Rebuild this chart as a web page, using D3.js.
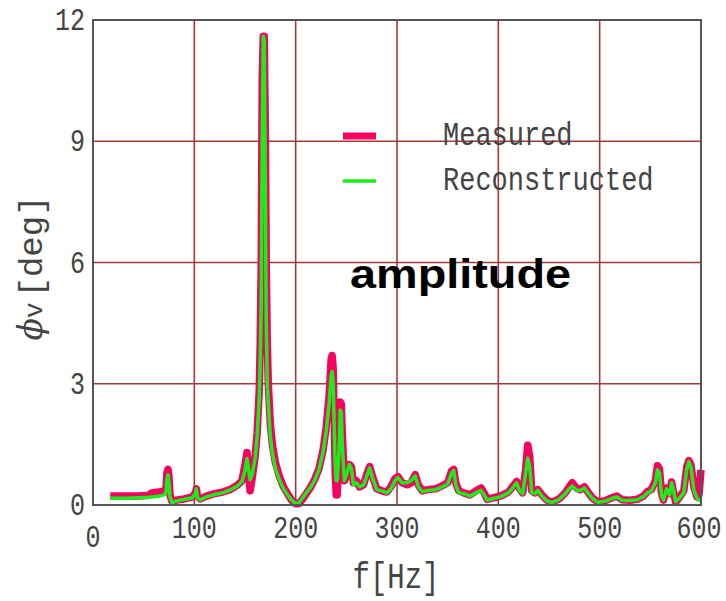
<!DOCTYPE html>
<html><head><meta charset="utf-8">
<script src="https://cdn.jsdelivr.net/npm/d3@7"></script>
<style>html,body{margin:0;padding:0;background:#fff;}svg{display:block;}</style>
</head><body>
<svg id="c" width="726" height="601"></svg>
<script>
const freq = [17,30,45,55,58,65,70,72,73,74,75,76,78,82,90,98,101,102,103,106,112,120,128,135,142,147,150,152,154,155,157,160,162,164,165,166,167,168,169,170,171,172,173,175,177,180,184,188,192,196,200,203,207,211,215,219,223,227,230,233,235,236,237,238,239,240,241,243,244,245,246,248,250,253,255,257,260,263,267,270,273,276,280,285,290,294,298,301,305,310,314,318,321,325,330,338,345,350,354,356,358,361,366,372,378,383,386,389,395,402,410,414,418,421,424,427,429,431,433,436,439,443,448,453,460,466,470,473,477,481,485,489,493,498,505,512,517,522,530,537,543,547,551,555,557,559,561,563,566,569,571,573,575,579,583,586,588,590,593,596,598,600];
const measured = [0.22,0.22,0.22,0.24,0.30,0.32,0.34,0.40,0.80,0.88,0.70,0.25,0.08,0.12,0.15,0.20,0.30,0.40,0.22,0.15,0.22,0.28,0.32,0.38,0.48,0.60,1.00,1.30,0.70,0.35,0.65,1.20,1.80,2.80,4.00,6.00,10.50,11.60,11.60,9.50,5.90,4.00,3.00,2.00,1.50,1.05,0.70,0.45,0.28,0.12,0.03,0.03,0.15,0.30,0.45,0.65,0.90,1.35,1.90,2.70,3.60,3.70,3.40,2.20,0.80,0.25,0.25,1.50,2.55,2.50,1.80,0.60,0.70,1.00,0.95,0.55,0.60,0.45,0.50,0.75,0.95,0.70,0.40,0.35,0.32,0.45,0.65,0.70,0.55,0.50,0.55,0.75,0.50,0.35,0.38,0.40,0.48,0.55,0.85,0.88,0.55,0.35,0.30,0.25,0.35,0.42,0.30,0.14,0.18,0.22,0.32,0.45,0.58,0.40,0.30,0.90,1.48,1.20,0.35,0.30,0.38,0.25,0.12,0.07,0.15,0.30,0.45,0.55,0.42,0.38,0.45,0.30,0.17,0.08,0.10,0.18,0.22,0.13,0.12,0.14,0.22,0.33,0.38,0.60,0.97,0.90,0.30,0.12,0.42,0.28,0.57,0.30,0.07,0.20,0.35,0.95,1.10,1.00,0.45,0.20,0.25,0.87];
const reconstructed = [0.17,0.17,0.18,0.19,0.20,0.22,0.25,0.30,0.65,0.75,0.55,0.20,0.05,0.10,0.14,0.18,0.28,0.40,0.18,0.13,0.20,0.26,0.30,0.37,0.46,0.58,0.85,1.15,0.80,0.62,0.75,1.15,1.70,2.60,3.50,5.00,9.00,11.60,11.50,8.00,4.50,3.00,2.50,1.70,1.30,0.90,0.62,0.40,0.25,0.12,0.04,0.05,0.18,0.32,0.45,0.62,0.88,1.30,1.80,2.50,3.20,3.30,3.00,2.00,1.00,0.60,0.60,1.40,2.35,2.30,1.50,0.60,0.75,1.00,0.90,0.50,0.55,0.45,0.50,0.70,0.92,0.65,0.38,0.35,0.30,0.40,0.60,0.68,0.55,0.55,0.60,0.72,0.45,0.33,0.36,0.38,0.45,0.52,0.80,0.85,0.50,0.30,0.28,0.22,0.30,0.36,0.25,0.12,0.16,0.20,0.30,0.42,0.55,0.35,0.28,0.80,1.16,0.95,0.30,0.28,0.36,0.22,0.10,0.06,0.14,0.28,0.40,0.47,0.37,0.36,0.42,0.28,0.16,0.07,0.09,0.16,0.20,0.12,0.11,0.13,0.20,0.30,0.35,0.55,0.87,0.80,0.25,0.12,0.40,0.25,0.55,0.35,0.08,0.18,0.30,0.90,1.07,0.95,0.37,0.17,0.12,0.10];
const xTicks = [100,200,300,400,500,600];
const yTicks = [0,3,6,9,12];
const seriesNames = ["Measured","Reconstructed"];
const seriesColors = ["#f7005f","#1aee1a"];

const svg = d3.select("#c");
const x = d3.scaleLinear().domain([0,600]).range([93,701]);
const y = d3.scaleLinear().domain([0,12]).range([505,20]);
const mono = "'Liberation Mono','Courier New',monospace";
const txt = "#444";
const st = (px,py)=>`translate(${px},${py}) scale(1,1.25)`;

// grid
svg.append("g").selectAll("line").data(xTicks.filter(d=>d<600)).join("line")
  .attr("x1",d=>x(d)).attr("x2",d=>x(d)).attr("y1",y(12)).attr("y2",y(0))
  .attr("stroke","#a33a3a").attr("stroke-width",1.6);
svg.append("g").selectAll("line").data(yTicks.filter(d=>d>0&&d<12)).join("line")
  .attr("x1",x(0)).attr("x2",x(600)).attr("y1",d=>y(d)).attr("y2",d=>y(d))
  .attr("stroke","#a33a3a").attr("stroke-width",1.6);

// lines
const line = (vals)=>d3.line().x((d,i)=>x(freq[i])).y(d=>y(d)).curve(d3.curveLinear)(vals);
svg.append("path").attr("d",line(measured)).attr("fill","none")
  .attr("stroke",seriesColors[0]).attr("stroke-width",7.5).attr("stroke-linejoin","round");
svg.append("path").attr("d",line(reconstructed)).attr("fill","none")
  .attr("stroke",seriesColors[1]).attr("stroke-width",3.5).attr("stroke-linejoin","round");

// border
svg.append("rect").attr("x",x(0)).attr("y",y(12)).attr("width",x(600)-x(0)).attr("height",y(0)-y(12))
  .attr("fill","none").attr("stroke","#555").attr("stroke-width",2);

// y tick labels
svg.append("g").selectAll("text").data(yTicks).join("text")
  .attr("transform",d=>st(85,y(d)+10)).attr("text-anchor","end")
  .attr("font-family",mono).attr("font-size",25).attr("fill",txt)
  .text(d=>d);
// x tick labels
svg.append("g").selectAll("text").data(xTicks).join("text")
  .attr("transform",d=>st(d===600 ? x(d)-2 : x(d),538)).attr("text-anchor","middle")
  .attr("font-family",mono).attr("font-size",25).attr("fill",txt)
  .text(d=>d);
svg.append("text").attr("transform",st(x(0),547)).attr("text-anchor","middle")
  .attr("font-family",mono).attr("font-size",25).attr("fill",txt).text("0");

// axis titles
svg.append("text").attr("transform",st(396,588)).attr("text-anchor","middle")
  .attr("font-family",mono).attr("font-size",29).attr("fill",txt).text("f[Hz]");
const yl = svg.append("text").attr("transform","translate(42,268) rotate(-90)").attr("text-anchor","middle")
  .attr("font-family",mono).attr("font-size",34).attr("fill",txt);
yl.append("tspan").attr("font-family","'DejaVu Serif',serif").attr("font-style","italic").attr("font-size",33).text("ϕ");
yl.append("tspan").attr("font-size",26).text("v");
yl.append("tspan").attr("dx",5).text("[deg]");

// legend
const ly = [136,181];
const lw = [7,3.5];
seriesNames.forEach((n,i)=>{
  svg.append("line").attr("x1",343).attr("x2",376).attr("y1",ly[i]).attr("y2",ly[i])
    .attr("stroke",seriesColors[i]).attr("stroke-width",lw[i]);
  svg.append("text").attr("transform",st(443,ly[i]+9))
    .attr("font-family",mono).attr("font-size",27).attr("fill",txt).text(n);
});
svg.append("text").attr("x",350).attr("y",288)
  .attr("font-family","'Liberation Sans',Arial,sans-serif").attr("font-weight","bold").attr("font-size",41)
  .attr("fill","#000").attr("textLength",221).attr("lengthAdjust","spacingAndGlyphs").text("amplitude");
</script>
</body></html>
